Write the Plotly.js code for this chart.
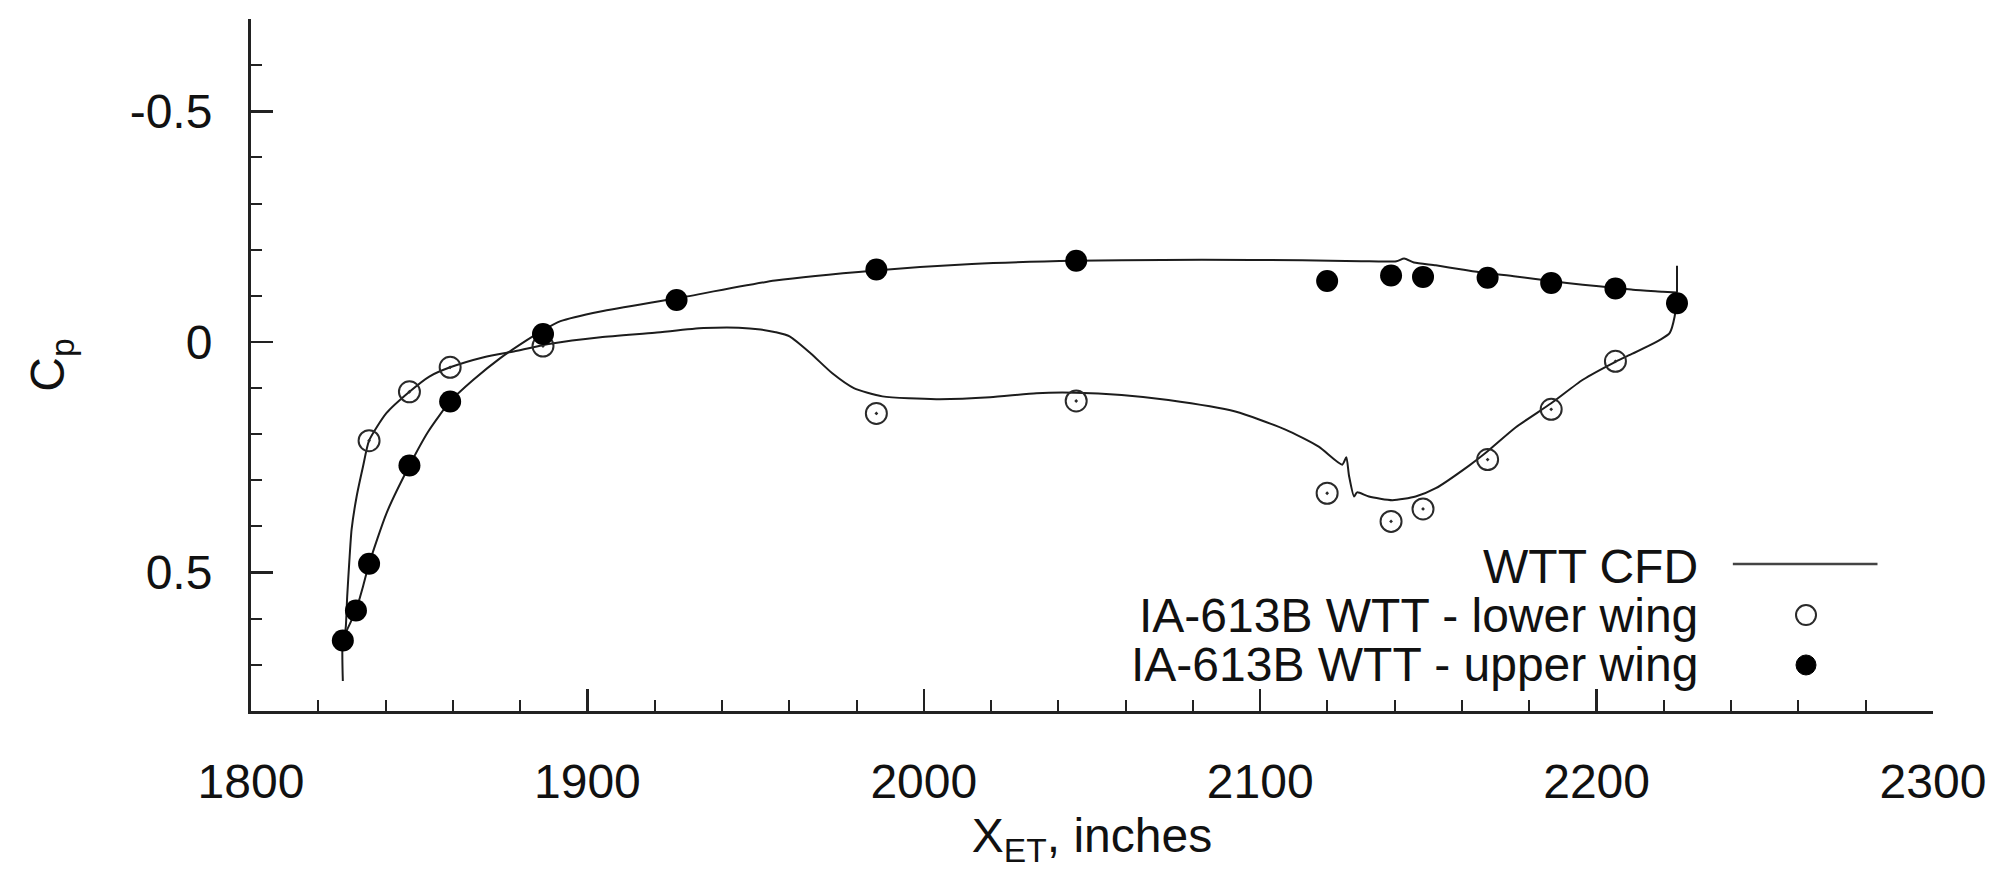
<!DOCTYPE html>
<html>
<head>
<meta charset="utf-8">
<script src="https://cdn.plot.ly/plotly-3.0.1.min.js"></script>
<style>
  html, body { margin: 0; padding: 0; background: #fff; }
  #chart { width: 2001px; height: 869px; }
</style>
</head>
<body>
<div id="chart"></div>
<script>
// ---- Series names ----
const seriesNames = ["WTT CFD", "IA-613B WTT - lower wing", "IA-613B WTT - upper wing"];

// ---- WTT CFD curve: TE tick | upper surface TE -> LE tail | lower surface LE -> TE (null = pen up) ----
const cfdX = [
  2223.9, 2223.9, null,
  2223.9, 2219.7, 2210.8, 2205.6, 2195.9, 2186.5, 2176.0, 2166.1, 2160.0,
  2152.2, 2145.7, 2142.8, 2140.5, 2130.0, 2112.5, 2082.7, 2058.8, 2045.2, 2014.3,
  1985.6, 1955.8, 1926.2, 1903.9, 1892.0, 1886.0, 1882.0, 1874.1, 1866.1, 1859.2,
  1852.7, 1847.1, 1840.3, 1835.1, 1833.3, 1831.2, 1828.5, 1827.3, 1827.3, null,
  1827.4, 1827.8, 1828.2, 1828.6, 1829.2, 1829.9, 1831.4, 1833.3, 1835.1, 1840.3, 1847.1,
  1853.0, 1859.2, 1869.2, 1879.1, 1889.0, 1903.9, 1920.0, 1934.5, 1945.0, 1951.5,
  1956.0, 1960.1, 1966.4, 1972.8, 1979.2, 1987.7, 2003.7, 2019.7, 2033.5, 2045.2,
  2058.8, 2072.7, 2092.6, 2107.5, 2117.4, 2124.4, 2125.6, 2126.4, 2127.9, 2128.8,
  2132.3, 2139.3, 2146.2, 2152.2, 2162.1, 2167.6, 2176.0, 2186.5, 2195.9, 2205.6,
  2210.8, 2218.7, 2221.7, 2223.2, 2223.9
];
const cfdY = [
  -0.165, -0.107, null,
  -0.107, -0.109, -0.113, -0.117, -0.124, -0.132, -0.142, -0.150, -0.157,
  -0.166, -0.172, -0.181, -0.175, -0.175, -0.177, -0.178, -0.177, -0.176, -0.169,
  -0.155, -0.133, -0.094, -0.066, -0.045, -0.022, -0.004, 0.035, 0.082, 0.129,
  0.194, 0.268, 0.371, 0.481, 0.530, 0.582, 0.625, 0.647, 0.735, null,
  0.660, 0.640, 0.616, 0.551, 0.479, 0.407, 0.335, 0.270, 0.214, 0.154, 0.108,
  0.075, 0.055, 0.033, 0.019, 0.004, -0.010, -0.020, -0.030, -0.031, -0.027,
  -0.021, -0.012, 0.025, 0.068, 0.100, 0.118, 0.124, 0.120, 0.111, 0.110,
  0.115, 0.126, 0.151, 0.190, 0.227, 0.266, 0.250, 0.290, 0.335, 0.326,
  0.335, 0.343, 0.335, 0.317, 0.268, 0.237, 0.185, 0.133, 0.082, 0.043,
  0.025, -0.004, -0.019, -0.055, -0.107
];

// ---- IA-613B WTT lower wing (open circles) ----
const lowerX = [1835.1, 1847.1, 1859.2, 1886.8, 1985.9, 2045.3, 2119.9, 2138.9, 2148.4, 2167.6, 2186.5, 2205.6];
const lowerY = [0.214, 0.108, 0.055, 0.009, 0.155, 0.128, 0.328, 0.389, 0.362, 0.255, 0.146, 0.042];

// ---- IA-613B WTT upper wing (filled circles) ----
const upperX = [1827.3, 1831.2, 1835.1, 1847.1, 1859.2, 1886.8, 1926.5, 1985.9, 2045.3, 2119.9, 2138.9, 2148.4, 2167.6, 2186.5, 2205.6, 2223.9];
const upperY = [0.647, 0.582, 0.481, 0.268, 0.129, -0.017, -0.091, -0.157, -0.176, -0.132, -0.144, -0.141, -0.139, -0.128, -0.116, -0.084];

// ---- Tick labels ----
const yTickVals = [-0.5, 0, 0.5];
const yTickText = ["-0.5", "0", "0.5"];
const xTickVals = [1800, 1900, 2000, 2100, 2200, 2300];
const xTickText = ["1800", "1900", "2000", "2100", "2200", "2300"];

const FONT = "Liberation Sans, Arial, Helvetica, sans-serif";
const INK = "#111";

const traces = [
  {
    type: "scatter", mode: "lines", name: seriesNames[0],
    x: cfdX, y: cfdY, connectgaps: false,
    line: { color: "#1c1c1c", width: 2, shape: "spline", smoothing: 0.6 },
    showlegend: false
  },
  {
    type: "scatter", mode: "markers", name: seriesNames[1],
    x: lowerX, y: lowerY,
    marker: { symbol: "circle-open-dot", size: 21, color: "#2a2a2a", line: { width: 2, color: "#2a2a2a" } },
    showlegend: false
  },
  {
    type: "scatter", mode: "markers", name: seriesNames[2],
    x: upperX, y: upperY,
    marker: { symbol: "circle", size: 22, color: "#000" },
    showlegend: false
  }
];

const axisCommon = {
  showgrid: false, zeroline: false, showline: true,
  linecolor: "#222", linewidth: 3, mirror: false,
  ticks: "inside", ticklen: 22, tickwidth: 2.5, tickcolor: "#222",
  tickfont: { family: FONT, size: 48, color: INK },
  fixedrange: true
};

// legend layout (paper coordinates)
const legX = 0.8615;
const legRows = [0.2085, 0.1387, 0.0665];
const legSymX = 0.9245;

const layout = {
  width: 2001, height: 869,
  paper_bgcolor: "#fff", plot_bgcolor: "#fff",
  margin: { l: 251, r: 68, t: 19, b: 158 },
  showlegend: false,
  font: { family: FONT, color: INK },
  xaxis: Object.assign({}, axisCommon, {
    range: [1800, 2300],
    tickmode: "array", tickvals: xTickVals, ticktext: xTickText,
    ticklabelstandoff: 26,
    minor: { tickmode: "linear", tick0: 1800, dtick: 20, ticks: "inside", ticklen: 11, tickwidth: 2, tickcolor: "#222" },
    title: { text: "X<sub>ET</sub>, inches", font: { family: FONT, size: 48, color: INK }, standoff: 26 }
  }),
  yaxis: Object.assign({}, axisCommon, {
    range: [0.8, -0.7],
    tickmode: "array", tickvals: yTickVals, ticktext: yTickText,
    ticklabelstandoff: 26,
    minor: { tickmode: "linear", tick0: 0, dtick: 0.1, ticks: "inside", ticklen: 11, tickwidth: 2, tickcolor: "#222" },
    title: { text: "C<sub>p</sub>", font: { family: FONT, size: 48, color: INK }, standoff: 50 }
  }),
  annotations: seriesNames.map((t, i) => ({
    xref: "paper", yref: "paper", x: legX, y: legRows[i],
    xanchor: "right", yanchor: "middle", showarrow: false,
    text: t, font: { family: FONT, size: 48, color: INK }
  })),
  shapes: [
    { type: "line", xref: "paper", yref: "paper", x0: 0.881, x1: 0.967, y0: legRows[0] + 0.004, y1: legRows[0] + 0.004,
      line: { color: "#444", width: 2.5 } },
    { type: "circle", xref: "paper", yref: "paper", xsizemode: "pixel", ysizemode: "pixel",
      xanchor: legSymX, yanchor: legRows[1], x0: -10, x1: 10, y0: -10, y1: 10,
      line: { color: "#2a2a2a", width: 2 }, fillcolor: "rgba(0,0,0,0)" },
    { type: "circle", xref: "paper", yref: "paper", xsizemode: "pixel", ysizemode: "pixel",
      xanchor: legSymX, yanchor: legRows[2], x0: -10, x1: 10, y0: -10, y1: 10,
      line: { color: "#000", width: 1 }, fillcolor: "#000" }
  ]
};

Plotly.newPlot("chart", traces, layout, { displayModeBar: false, staticPlot: true });
</script>
</body>
</html>
